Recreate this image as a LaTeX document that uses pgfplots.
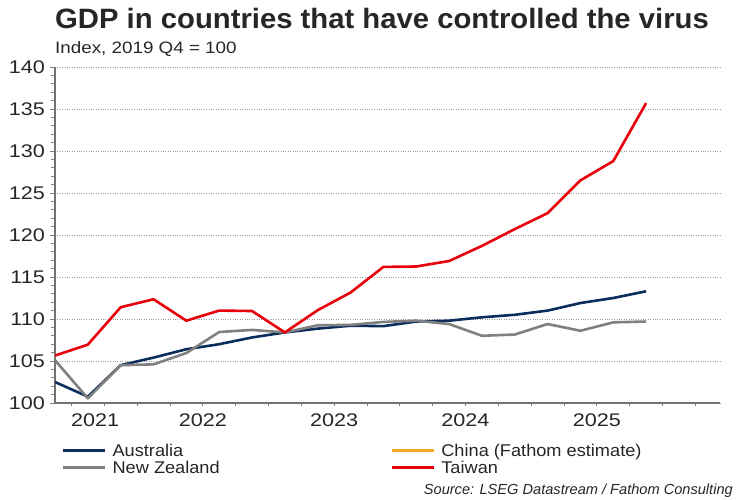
\documentclass[border=0pt]{standalone}
\usepackage{fontspec}
\setmainfont{Liberation Sans}
\newfontfamily\titlefont[FakeStretch=1.045]{Liberation Sans}
\newfontfamily\subfont[FakeStretch=1.14]{Liberation Sans}
\newfontfamily\legfont[FakeStretch=1.07]{Liberation Sans}
\newfontfamily\ticfont[FakeStretch=1.18]{Liberation Sans}
\usepackage{pgfplots}
\pgfplotsset{compat=1.18}
\definecolor{navy}{HTML}{0B2D5B}
\definecolor{nzgray}{HTML}{808080}
\definecolor{twred}{HTML}{E8000B}
\definecolor{cnorange}{HTML}{F5A623}
\definecolor{txt}{HTML}{262626}
\begin{document}
\begin{tikzpicture}[x=1pt,y=1pt]
\useasboundingbox (0,0) rectangle (750,500);
\node[anchor=base west, inner sep=0pt, text=txt, font=\titlefont\fontsize{28}{30}\selectfont\bfseries] at (55,471.7) {GDP in countries that have controlled the virus};
\node[anchor=base west, inner sep=0pt, text=txt, font=\subfont\fontsize{16.5}{18}\selectfont] at (55,446.7) {Index, 2019 Q4 = 100};
\node[anchor=base east, inner sep=0pt, text=txt, font=\fontsize{14.6}{16}\selectfont\itshape] at (733,5.5) {Source: LSEG Datastream / Fathom Consulting};
\begin{axis}[
  at={(55pt,97pt)}, anchor=south west, scale only axis,
  width=665pt, height=336pt,
  xmin=0, xmax=20.25, ymin=100, ymax=140,
  axis x line*=bottom, axis y line*=left,
  axis line style={gray!90!black, line width=1.3pt, -},
  /pgf/number format/assume math mode=true,
  ytick={100,105,...,140}, minor y tick num=4,
  xtick={1.22,4.5,8.5,12.5,16.5},
  xticklabels={2021,2022,2023,2024,2025},
  minor xtick={0.5,1.5,...,19.5},
  major x tick style={opacity=0},
  tick align=outside,
  major tick length=5pt, minor tick length=3.5pt,
  tick style={gray, line width=0.8pt},
  ymajorgrids,
  major grid style={dotted, gray!75, line width=0.7pt},
  ticklabel style={font=\ticfont\fontsize{18.3}{20}\selectfont, text=txt},
  yticklabel style={anchor=east, inner xsep=0pt, xshift=-5pt},
  xticklabel style={anchor=north, inner ysep=0pt, yshift=-6pt},
  legend columns=2,
  legend cell align=left,
  legend style={draw=none, fill=none, at={(0.0105,-0.1235)}, anchor=north west,
    inner sep=0pt, outer sep=0pt, row sep=0pt,
    font=\legfont\fontsize{17}{19}\selectfont, text=txt,
    nodes={inner sep=0pt, text height=12.5pt, text depth=4.5pt},
    /tikz/every odd column/.append style={column sep=6pt},
    /tikz/every even column/.append style={column sep=171pt}},
  legend image code/.code={\draw[#1, line width=2.6pt] (0pt,2.5pt) -- (42pt,2.5pt);},
]
\addplot[navy, line width=2.6pt, line join=round] coordinates {
(0,102.5) (1,100.75) (2,104.5) (3,105.4) (4,106.4) (5,107.0) (6,107.8) (7,108.4) (8,108.85) (9,109.2)
(10,109.15) (11,109.7) (12,109.8) (13,110.2) (14,110.5) (15,111.0) (16,111.9) (17,112.5) (18,113.3)};
\addlegendentry{Australia}
\addlegendimage{cnorange, line width=2.6pt}
\addlegendentry{China (Fathom estimate)}
\addplot[nzgray, line width=2.6pt, line join=round] coordinates {
(0,105.1) (1,100.55) (2,104.5) (3,104.6) (4,105.95) (5,108.45) (6,108.7) (7,108.4) (8,109.25) (9,109.3)
(10,109.65) (11,109.8) (12,109.4) (13,108.0) (14,108.15) (15,109.4) (16,108.6) (17,109.6) (18,109.7)};
\addlegendentry{New Zealand}
\addplot[twred, line width=2.6pt, line join=round] coordinates {
(0,105.65) (1,106.95) (2,111.4) (3,112.35) (4,109.8) (5,111.0) (6,110.95) (7,108.4) (8,111.05) (9,113.15)
(10,116.2) (11,116.25) (12,116.9) (13,118.7) (14,120.7) (15,122.6) (16,126.5) (17,128.8) (18,135.7)};
\addlegendentry{Taiwan}
\end{axis}
\end{tikzpicture}
\end{document}
